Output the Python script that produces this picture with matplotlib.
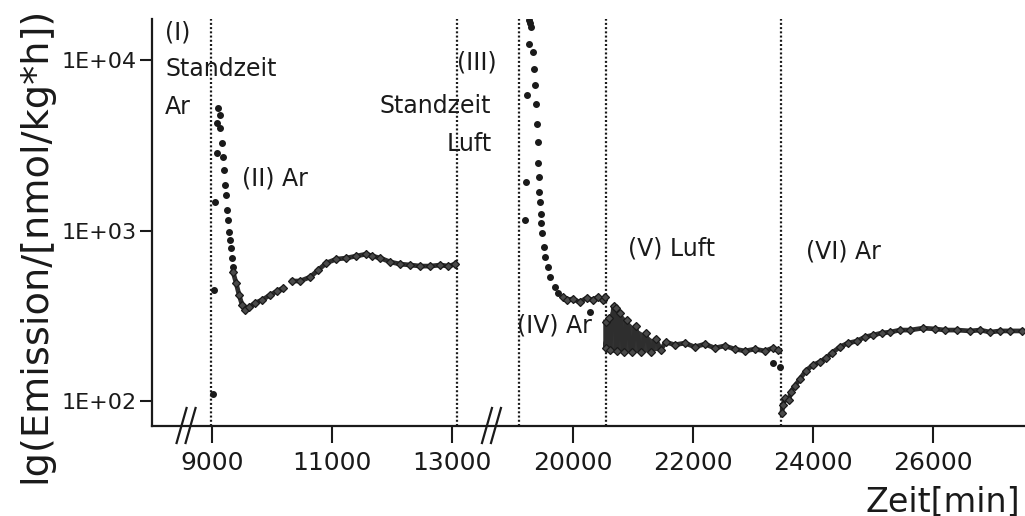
import numpy as np
import matplotlib
matplotlib.use("Agg")
import matplotlib.pyplot as plt

plt.rcParams['font.family'] = ['DejaVu Sans']

# time axis is cut between the two measuring campaigns
GAP_START = 13650
GAP_LEN = 5000

# phase changes [min]
phase_bounds = [8990, 13070, 19100, 20550, 23470]

# phase II (Ar): single points of the decay, then the dense record
t_ii_dots = [9100, 9133, 9078, 9133, 9162, 9078, 9178, 9200, 9217, 9233,
             9055, 9245, 9272, 9288, 9300, 9312, 9328, 9345, 9038, 9022]
v_ii_dots = [5230, 4755, 4270, 3990, 3258, 2846, 2697, 2262, 1847, 1614,
             1468, 1318, 1151, 979, 879, 788, 689, 610, 447, 110]
t_ii_band_a = [9350, 9400, 9450, 9500, 9550, 9617, 9717, 9833, 9967, 10083, 10183]
v_ii_band_a = [570, 491, 418, 365, 341, 355, 375, 391, 418, 441, 459]
t_ii_band_b = [10333, 10467, 10633, 10767, 10900, 11067, 11233, 11400, 11567,
               11667, 11800, 11967, 12133, 12300, 12467, 12633, 12800, 12933, 13050]
v_ii_band_b = [505, 505, 533, 586, 644, 679, 689, 708, 727,
               708, 689, 653, 635, 627, 618, 618, 627, 618, 635]

# phase IV (Ar) after standing in air
t_iv_dots = [19275, 19295, 19300, 19272, 19338, 19350, 19238, 19372, 19395, 19405,
             19417, 19428, 19228, 19438, 19438, 19450, 19467, 19478, 19212, 19495,
             19517, 19545, 19588, 19628, 19700, 19755, 20283]
v_iv_dots = [17180, 16560, 15630, 12530, 11190, 8940, 6240, 7130, 5570, 4250,
             3320, 2510, 1932, 2066, 1687, 1473, 1259, 1101, 1151, 961,
             802, 701, 612, 535, 467, 428, 332]
t_iv_band = [19838, 19900, 20000, 20117, 20233, 20333, 20417, 20500, 20533]
v_iv_band = [406, 391, 396, 380, 401, 391, 406, 391, 406]

# phase V (Luft): scattered burst right after switching, upper / lower edge
t_v_burst = [20550, 20600, 20650, 20700, 20750, 20817, 20900, 21000, 21117,
             21233, 21350, 21467]
v_v_burst_hi = [290, 315, 350, 365, 346, 323, 298, 275, 257, 243, 227, 213]
v_v_burst_lo = [204, 196, 193, 193, 193, 193, 193, 193, 193, 193, 196, 199]
t_v_band = [20550, 20550, 20600, 20617, 20683, 20717, 20733, 20783, 20850, 20900,
            20983, 21050, 21133, 21217, 21300, 21383, 21467, 21550, 21700, 21867,
            22033, 22200, 22367, 22533, 22700, 22867, 23033, 23200, 23333, 23417]
v_v_band = [290, 204, 306, 199, 360, 351, 196, 327, 193, 298,
            193, 275, 193, 250, 193, 231, 199, 221, 213, 218,
            207, 215, 204, 210, 201, 196, 201, 196, 204, 199]
t_v_dots = [23333, 23450]
v_v_dots = [167, 158]

# phase VI (Ar)
t_vi_band = [23483, 23500, 23533, 23600, 23633, 23700, 23783, 23883, 24000, 24117,
             24217, 24317, 24450, 24583, 24733, 24867, 25000, 25150, 25283, 25450,
             25617, 25833, 26033, 26200, 26400, 26617, 26783, 26950, 27117, 27283, 27483]
v_vi_band = [84.7, 94.4, 104, 101, 113, 122, 134, 150, 162, 169,
             178, 191, 207, 218, 224, 237, 243, 250, 253, 260,
             260, 267, 264, 260, 260, 257, 260, 253, 257, 257, 257]

x_ticks = [9000, 11000, 13000, 20000, 22000, 24000, 26000]
y_ticks = [1e2, 1e3, 1e4]
y_ticklabels = ['1E+02', '1E+03', '1E+04']


def squeeze(t):
    t = np.asarray(t, dtype=float)
    return t - np.clip(t - GAP_START, 0, GAP_LEN)


def unsqueeze(u):
    u = np.asarray(u, dtype=float)
    return np.where(u > GAP_START, u + GAP_LEN, u)


fig = plt.figure(figsize=(10.25, 5.16), dpi=100)
ax = fig.add_axes([152 / 1025, 90 / 516, 873 / 1025, 407 / 516])
ax.set_xscale('function', functions=(squeeze, unsqueeze))
ax.set_yscale('log')
ax.set_xlim(8000, 27530)
ax.set_ylim(71, 17500)

ink = '#1a1a1a'
band = dict(color='#2e2e2e', lw=3.4, marker='D', ms=4.4, mec=ink, mfc='#4a4a4a', mew=0.9)
dots = dict(ls='none', marker='o', ms=4.0, color=ink)

for tb in phase_bounds:
    ax.axvline(tb, color=ink, lw=1.6, ls=(0, (0.9, 1.0)))

ax.plot(t_ii_dots, v_ii_dots, **dots)
ax.plot(t_ii_band_a, v_ii_band_a, **band)
ax.plot(t_ii_band_b, v_ii_band_b, **band)
ax.plot(t_iv_dots, v_iv_dots, **dots)
ax.plot(t_iv_band, v_iv_band, **band)
ax.fill_between(t_v_burst, v_v_burst_lo, v_v_burst_hi, color='#333333', lw=0)
ax.plot(t_v_band, v_v_band, **band)
ax.plot(t_v_dots, v_v_dots, **dots)
ax.plot(t_vi_band, v_vi_band, **band)

ax.set_xticks(x_ticks)
ax.set_xticklabels([str(x) for x in x_ticks])
ax.set_yticks(y_ticks)
ax.set_yticklabels(y_ticklabels)
ax.yaxis.set_minor_locator(matplotlib.ticker.NullLocator())
ax.xaxis.set_minor_locator(matplotlib.ticker.NullLocator())
ax.tick_params(axis='x', length=12, width=1.5, pad=6, labelsize=18, colors=ink)
ax.tick_params(axis='y', length=9, width=1.5, pad=2, labelsize=16, colors=ink)

for side in ['top', 'right']:
    ax.spines[side].set_visible(False)
for side in ['left', 'bottom']:
    ax.spines[side].set_linewidth(1.6)
    ax.spines[side].set_color(ink)

# // marks on the time axis
w_px, h_px = 873.0, 407.0
for tb in [8567, GAP_START]:
    xc = ax.transAxes.inverted().transform(ax.transData.transform((tb, 100)))[0]
    for off in (-4.5, 4.5):
        x0 = xc + (off - 5) / w_px
        x1 = xc + (off + 5) / w_px
        ax.plot([x0, x1], [-17 / h_px, 18 / h_px], transform=ax.transAxes,
                color=ink, lw=1.6, clip_on=False)

txt = dict(fontsize=17, color=ink, va='center')
ax.text(8217, 14590, '(I)', ha='left', **txt)
ax.text(8217, 8857, 'Standzeit', ha='left', **txt)
ax.text(8217, 5297, 'Ar', ha='left', **txt)
ax.text(9500, 2030, '(II) Ar', ha='left', **txt)
ax.text(13083, 9730, '(III)', ha='left', **txt)
ax.text(GAP_START, 5370, 'Standzeit', ha='right', **txt)
ax.text(GAP_START, 3215, 'Luft', ha='right', **txt)
ax.text(19083, 275, '(IV) Ar', ha='left', **txt)
ax.text(20917, 789, '(V) Luft', ha='left', **txt)
ax.text(23883, 757, '(VI) Ar', ha='left', **txt)

fig.text(35 / 1025, 1 - 245 / 516, 'lg(Emission/[nmol/kg*h])', rotation=90,
         ha='center', va='center', fontsize=27.5, color=ink)
fig.text(1020 / 1025, 5 / 516, 'Zeit[min]', ha='right', va='baseline',
         fontsize=24, color=ink)

fig.savefig('out.png', dpi=100)
